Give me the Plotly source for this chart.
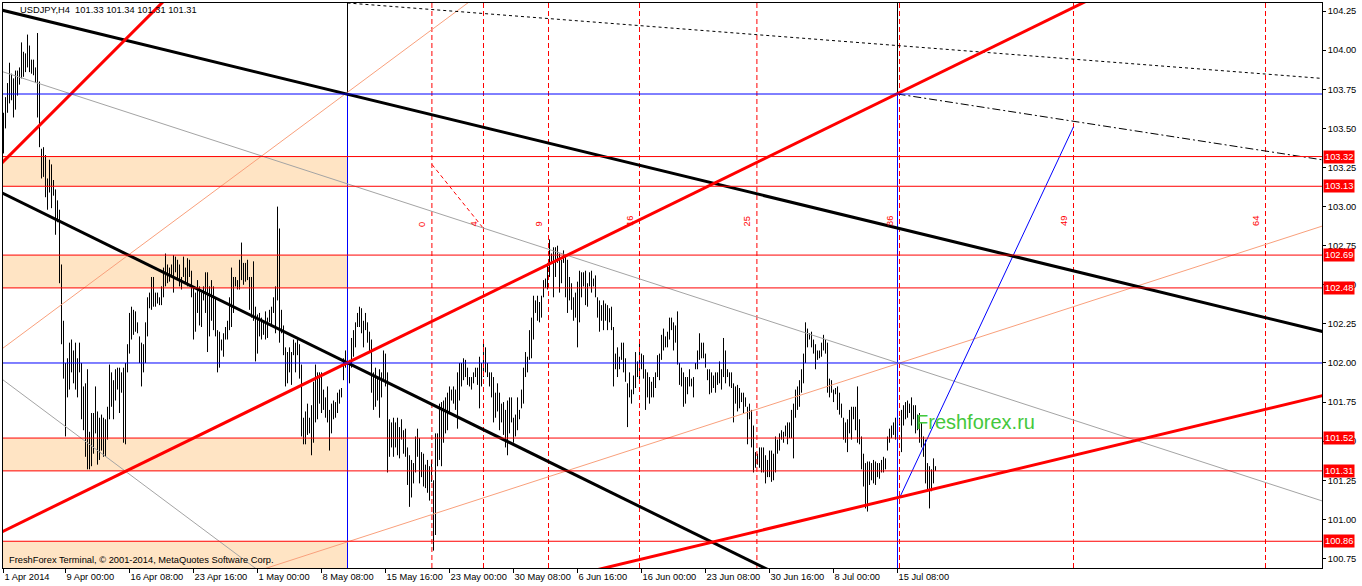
import plotly.graph_objects as go

# ---------------- data ----------------
highs = [
    103.60,103.70,103.79,103.92,103.85,103.82,103.87,103.87,103.89,104.05,
    103.99,103.98,104.10,104.03,103.94,103.94,103.89,104.11,103.80,103.37,
    103.38,103.33,103.18,103.30,103.27,103.17,103.11,103.04,102.98,102.63,
    102.27,102.00,102.03,102.13,102.15,102.08,102.13,102.03,102.13,102.00,
    101.85,101.87,101.96,101.56,101.68,101.68,101.85,101.69,101.65,101.67,
    101.65,101.64,101.72,101.99,101.94,101.89,101.96,101.97,101.97,101.94,
    101.97,102.00,102.12,102.32,102.36,102.34,102.33,102.26,102.17,102.13,
    102.12,102.26,102.42,102.45,102.55,102.55,102.45,102.45,102.42,102.49,
    102.61,102.70,102.63,102.61,102.63,102.69,102.68,102.66,102.63,102.55,
    102.68,102.61,102.67,102.66,102.59,102.49,102.45,102.53,102.49,102.45,
    102.49,102.58,102.58,102.49,102.53,102.49,102.42,102.21,102.20,102.15,
    102.19,102.23,102.27,102.42,102.61,102.55,102.55,102.53,102.66,
    102.77,102.64,102.64,102.66,102.55,102.55,102.65,102.36,102.31,102.32,102.29,
    102.27,102.33,102.29,102.34,102.36,102.42,102.49,103.00,102.86,102.34,
    102.24,102.10,102.07,102.10,102.07,102.15,102.13,102.15,102.12,101.99,
    101.65,101.69,101.74,101.65,101.73,101.88,101.99,101.94,101.94,101.94,
    101.83,101.78,101.85,101.70,101.74,101.76,101.75,101.81,101.83,101.84,
    102.03,102.08,101.97,102.02,102.16,102.21,102.26,102.32,102.36,102.35,
    102.27,102.32,102.26,102.20,102.15,101.94,101.97,101.91,101.96,101.94,
    102.08,102.06,101.94,101.64,101.62,101.65,101.62,101.65,101.59,101.64,
    101.57,101.58,101.46,101.41,101.38,101.36,101.53,101.58,101.52,101.43,
    101.42,101.35,101.38,101.34,101.38,101.25,101.55,101.55,101.74,101.75,
    101.76,101.78,101.81,101.85,101.83,101.85,101.83,101.94,102.00,102.00,
    102.03,102.02,101.97,101.91,101.91,101.94,101.97,101.97,102.04,102.00,
    102.13,102.10,102.00,101.94,101.94,101.91,101.81,101.87,101.81,101.74,
    101.75,101.70,101.76,101.78,101.78,101.65,101.67,101.78,101.70,101.83,
    101.97,102.07,102.04,102.21,102.29,102.43,102.40,102.43,102.39,102.43,
    102.53,102.54,102.64,102.79,102.70,102.74,102.74,102.75,102.70,102.66,
    102.72,102.68,102.66,102.55,102.51,102.42,102.45,102.52,102.59,102.58,
    102.58,102.59,102.51,102.58,102.59,102.54,102.56,102.42,102.40,102.37,
    102.40,102.38,102.37,102.35,102.36,102.23,102.06,102.10,102.04,102.13,
    102.13,102.03,101.87,101.94,101.83,101.92,102.07,102.01,102.13,102.06,
    102.05,101.96,101.94,101.91,101.88,101.91,101.94,102.05,102.06,102.18,
    102.22,102.17,102.20,102.29,102.29,102.26,102.24,102.33,102.00,101.97,
    101.94,101.91,101.91,101.96,101.90,101.91,102.00,102.08,102.19,102.13,
    102.13,102.06,101.96,101.96,101.94,101.92,101.94,101.94,102.01,101.96,
    102.16,102.08,101.96,101.94,101.94,101.87,101.85,101.86,101.84,101.81,
    101.81,101.78,101.72,101.74,101.70,101.60,101.43,101.42,101.46,101.46,
    101.46,101.41,101.38,101.44,101.44,101.42,101.53,101.51,101.55,101.57,
    101.56,101.60,101.62,101.62,101.70,101.74,101.83,101.85,101.89,101.96,
    102.06,102.26,102.22,102.19,102.20,102.15,102.12,102.08,102.08,102.13,
    102.18,102.15,102.13,101.90,101.89,101.83,101.84,101.85,101.81,101.74,
    101.65,101.62,101.64,101.70,101.72,101.72,101.72,101.85,101.64,101.53,
    101.42,101.36,101.37,101.37,101.36,101.38,101.37,101.36,101.36,101.38,
    101.40,101.39,101.53,101.58,101.60,101.62,101.65,101.70,101.65,101.70,
    101.73,101.75,101.76,101.74,101.78,101.73,101.73,101.67,101.68,101.62,
    101.53,101.51,101.36,101.34,101.32,101.39,101.34,
]
lows = [
    103.34,103.50,103.60,103.66,103.68,103.57,103.62,103.71,103.78,103.82,
    103.83,103.86,103.89,103.86,103.85,103.84,103.79,103.57,103.38,103.18,
    103.19,103.06,102.98,103.09,102.99,103.07,102.82,102.90,102.51,102.12,
    101.90,101.53,101.78,101.83,101.94,101.87,101.83,101.78,101.94,101.64,
    101.57,101.40,101.32,101.32,101.34,101.42,101.55,101.35,101.38,101.44,
    101.40,101.40,101.51,101.64,101.72,101.64,101.76,101.83,101.68,101.81,
    101.49,101.48,101.94,102.06,102.15,102.18,102.20,102.19,102.00,101.85,
    101.94,102.00,102.17,102.35,102.34,102.36,102.36,102.38,102.37,102.37,
    102.42,102.49,102.51,102.52,102.55,102.45,102.58,102.53,102.49,102.47,
    102.55,102.51,102.49,102.55,102.42,102.15,102.20,102.32,102.24,102.23,
    102.40,102.32,102.07,102.17,102.27,102.21,102.17,101.94,101.97,102.08,
    102.04,102.15,102.15,102.21,102.23,102.32,102.49,102.47,102.47,
    102.53,102.50,102.52,102.53,102.34,102.29,102.27,102.01,102.06,102.17,102.15,
    102.18,102.15,102.16,102.26,102.24,102.32,102.19,102.40,102.13,102.19,
    102.05,101.85,101.87,101.94,101.86,102.05,101.94,102.05,101.90,101.53,
    101.48,101.48,101.54,101.55,101.41,101.49,101.62,101.64,101.74,101.68,
    101.70,101.65,101.62,101.44,101.55,101.64,101.65,101.68,101.74,101.78,
    101.89,101.97,101.83,101.87,101.97,102.04,102.10,102.23,102.23,102.19,
    102.10,102.21,102.13,102.07,101.81,101.70,101.72,101.76,101.65,101.78,
    101.88,101.85,101.30,101.40,101.46,101.40,101.46,101.41,101.39,101.51,
    101.42,101.40,101.22,101.08,101.14,101.23,101.30,101.40,101.23,101.27,
    101.21,101.20,101.17,101.12,101.24,100.80,100.90,101.34,101.38,101.34,
    101.49,101.55,101.57,101.68,101.76,101.74,101.70,101.58,101.76,101.85,
    101.89,101.91,101.86,101.85,101.83,101.87,101.91,101.86,101.71,101.85,
    101.91,101.94,101.91,101.85,101.78,101.62,101.65,101.69,101.57,101.62,
    101.54,101.46,101.41,101.55,101.62,101.49,101.53,101.57,101.64,101.71,
    101.74,101.91,101.94,102.02,102.03,102.15,102.32,102.27,102.26,102.29,
    102.42,102.48,102.47,102.55,102.64,102.42,102.55,102.64,102.45,102.51,
    102.64,102.42,102.32,102.40,102.34,102.27,102.29,102.10,102.26,102.42,
    102.49,102.37,102.36,102.49,102.45,102.49,102.42,102.29,102.20,102.27,
    102.21,102.27,102.21,102.26,102.21,101.85,101.96,101.91,101.96,102.02,
    101.94,101.88,101.59,101.78,101.74,101.80,101.84,101.91,101.87,101.96,
    101.90,101.70,101.78,101.74,101.78,101.78,101.84,101.91,101.89,102.02,
    102.08,102.10,102.10,102.15,102.21,102.08,102.13,101.99,101.86,101.85,
    101.72,101.74,101.80,101.85,101.85,101.78,101.96,101.96,102.02,102.03,
    102.03,101.97,101.89,101.80,101.81,101.84,101.81,101.86,101.87,101.83,
    101.91,101.87,101.91,101.85,101.84,101.62,101.74,101.69,101.71,101.75,
    101.68,101.72,101.48,101.64,101.46,101.30,101.33,101.35,101.33,101.30,
    101.30,101.23,101.27,101.27,101.24,101.25,101.30,101.42,101.44,101.51,
    101.49,101.53,101.48,101.52,101.52,101.39,101.65,101.70,101.72,101.81,
    101.87,102.00,102.10,102.15,102.10,102.06,101.96,102.02,102.03,102.04,
    102.08,102.06,101.81,101.78,101.81,101.75,101.80,101.70,101.67,101.65,
    101.51,101.49,101.43,101.55,101.51,101.64,101.57,101.49,101.48,101.32,
    101.21,101.07,101.05,101.22,101.25,101.23,101.22,101.27,101.26,101.30,
    101.30,101.32,101.44,101.49,101.52,101.54,101.51,101.52,101.60,101.43,
    101.60,101.64,101.65,101.68,101.60,101.64,101.55,101.57,101.49,101.46,
    101.40,101.23,101.18,101.07,101.18,101.23,101.31,
]

tick_idx = [0, 31, 63, 95, 127, 159, 191, 223, 255, 287, 319, 351, 383, 415, 447]
tick_text = ["1 Apr 2014", "9 Apr 00:00", "16 Apr 08:00", "23 Apr 16:00", "1 May 00:00",
             "8 May 08:00", "15 May 16:00", "23 May 00:00", "30 May 08:00", "6 Jun 16:00",
             "16 Jun 00:00", "23 Jun 08:00", "30 Jun 16:00", "8 Jul 00:00", "15 Jul 08:00"]

red_levels = [103.32, 103.13, 102.69, 102.48, 101.52, 101.31, 100.86]
blue_levels = [103.72, 102.00]
zone_low = [103.13, 102.48, 101.31, 100.60]
zone_high = [103.32, 102.69, 101.52, 100.86]
zone_end = 172
vline_idx = [172, 447]
vline_split = 103.72

fib_idx = [214.2, 240, 272.5, 318, 376.7, 448, 535, 631]
fib_text = ["0", "4", "9", "16", "25", "36", "49", "64"]
fib_label_price = 102.86
fib_base = [(214.2, 103.27), (240, 102.86)]

black_upper = [(-1, 104.257), (660, 102.20)]
black_lower = [(-1, 103.089), (400, 100.567)]
red_main = [(-1, 100.919), (560, 104.43)]
red_topleft = [(-1, 103.277), (90, 104.44)]
red_bottom = [(290, 100.657), (660, 101.793)]
salmon_a = [(-1, 102.088), (240, 104.377)]
salmon_b = [(130, 100.682), (660, 102.878)]
gray_a = [(-1, 103.865), (660, 101.115)]
gray_b = [(-1, 101.899), (130, 100.649)]
dash_top = [(172, 104.302), (660, 103.819)]
dashdot = [(447, 103.72), (660, 103.298)]
blue_diag = [(448, 101.137), (535, 103.51)]

title_text = "USDJPY,H4\u00a0 101.33 101.34 101.31 101.31"
copyright_text = "FreshForex Terminal, \u00a9 2001-2014, MetaQuotes Software Corp."
watermark_text = "Freshforex.ru"
watermark_pos = (485.8, 101.62)

x_range = [-0.25, 659.25]
y_range = [100.689, 104.302]

FONT = "Liberation Sans"
FS = 9.3
RED = "#FF0000"
BLUE = "#0000FF"
SALMON = "#F9A07C"
GRAY = "#A4A4A4"
ZONE = "#FFE4C4"

# ---------------- figure ----------------
fig = go.Figure()

# price bars as high-low segments
bx, by = [], []
for i, (h, l) in enumerate(zip(highs, lows)):
    bx += [i, i, None]
    by += [l, h, None]
fig.add_trace(go.Scatter(x=bx, y=by, mode="lines", line=dict(color="black", width=1),
                         hoverinfo="skip", showlegend=False))


def seg(pts, color, width, dash="solid"):
    fig.add_trace(go.Scatter(x=[p[0] for p in pts], y=[p[1] for p in pts], mode="lines",
                             line=dict(color=color, width=width, dash=dash),
                             hoverinfo="skip", showlegend=False))


shapes = []
for lo, hi in zip(zone_low, zone_high):
    shapes.append(dict(type="rect", xref="x", yref="y", x0=x_range[0], x1=zone_end,
                       y0=max(lo, y_range[0]), y1=hi, fillcolor=ZONE, line=dict(width=0),
                       layer="below"))

# vertical lines (black upper part, blue lower part)
for v in vline_idx:
    seg([(v, y_range[1]), (v, vline_split)], "black", 1)
    seg([(v, vline_split), (v, y_range[0])], BLUE, 1)

# fibonacci time zone dashed verticals
for v in fib_idx:
    seg([(v, y_range[0]), (v, y_range[1])], RED, 1, "5px,3px")
seg(fib_base, RED, 1, "4px,3px")

# thin lines
seg(salmon_a, SALMON, 1)
seg(salmon_b, SALMON, 1)
seg(gray_a, GRAY, 1)
seg(gray_b, GRAY, 1)
seg(dash_top, "black", 1, "3px,3px")
seg(dashdot, "black", 1, "8px,3px,2px,3px")
seg(blue_diag, BLUE, 1)

# thick lines
seg(black_upper, "black", 3)
seg(black_lower, "black", 3)
seg(red_main, RED, 3)
seg(red_topleft, RED, 3)
seg(red_bottom, RED, 3)

# horizontal levels
for lv in red_levels:
    shapes.append(dict(type="line", xref="paper", yref="y", x0=0, x1=1, y0=lv, y1=lv,
                       line=dict(color=RED, width=1)))
for lv in blue_levels:
    shapes.append(dict(type="line", xref="paper", yref="y", x0=0, x1=1, y0=lv, y1=lv,
                       line=dict(color=BLUE, width=1)))

annotations = []
for lv in red_levels:
    annotations.append(dict(xref="paper", yref="y", x=1, y=lv, xanchor="left", yanchor="middle",
                            text=f"{lv:.2f}", showarrow=False, xshift=1,
                            font=dict(family=FONT, size=FS, color="white"),
                            bgcolor=RED, borderpad=1))
for v, t in zip(fib_idx, fib_text):
    annotations.append(dict(xref="x", yref="y", x=v, y=fib_label_price, xanchor="right",
                            yanchor="bottom", text=t, textangle=-90, showarrow=False, xshift=-3,
                            font=dict(family=FONT, size=FS, color=RED)))
annotations.append(dict(xref="paper", yref="paper", x=0.0116, y=0.9876, xanchor="left",
                        yanchor="middle", text=title_text, showarrow=False,
                        font=dict(family=FONT, size=FS, color="black")))
annotations.append(dict(xref="paper", yref="paper", x=0.003, y=0.0142, xanchor="left",
                        yanchor="middle", text=copyright_text, showarrow=False,
                        font=dict(family=FONT, size=FS, color="black")))
annotations.append(dict(xref="x", yref="y", x=watermark_pos[0], y=watermark_pos[1],
                        xanchor="center", yanchor="middle", text=watermark_text, showarrow=False,
                        font=dict(family=FONT, size=20, color="#44C83C")))

fig.update_layout(
    width=1362, height=586,
    margin=dict(l=3, r=40, t=3, b=18),
    paper_bgcolor="white", plot_bgcolor="white",
    shapes=shapes, annotations=annotations,
    showlegend=False,
    xaxis=dict(range=x_range, showgrid=False, zeroline=False, tickmode="array",
               tickvals=tick_idx, ticktext=tick_text, ticks="outside", ticklen=4,
               tickcolor="black", showline=True, linecolor="black", linewidth=1, mirror=True,
               ticklabelposition="outside right", tickangle=0, ticklabelstandoff=0,
               automargin=False, tickfont=dict(family=FONT, size=FS, color="black")),
    yaxis=dict(range=y_range, side="right", showgrid=False, zeroline=False, tick0=100.75,
               dtick=0.25, tickformat=".2f", ticks="outside", ticklen=3, tickcolor="black",
               showline=True, linecolor="black", linewidth=1, mirror=True, automargin=False,
               tickfont=dict(family=FONT, size=FS, color="black")),
)

fig.write_html("out.html", config={"displayModeBar": False},
               post_script="document.body.style.margin='0px';document.body.style.padding='0px';")
